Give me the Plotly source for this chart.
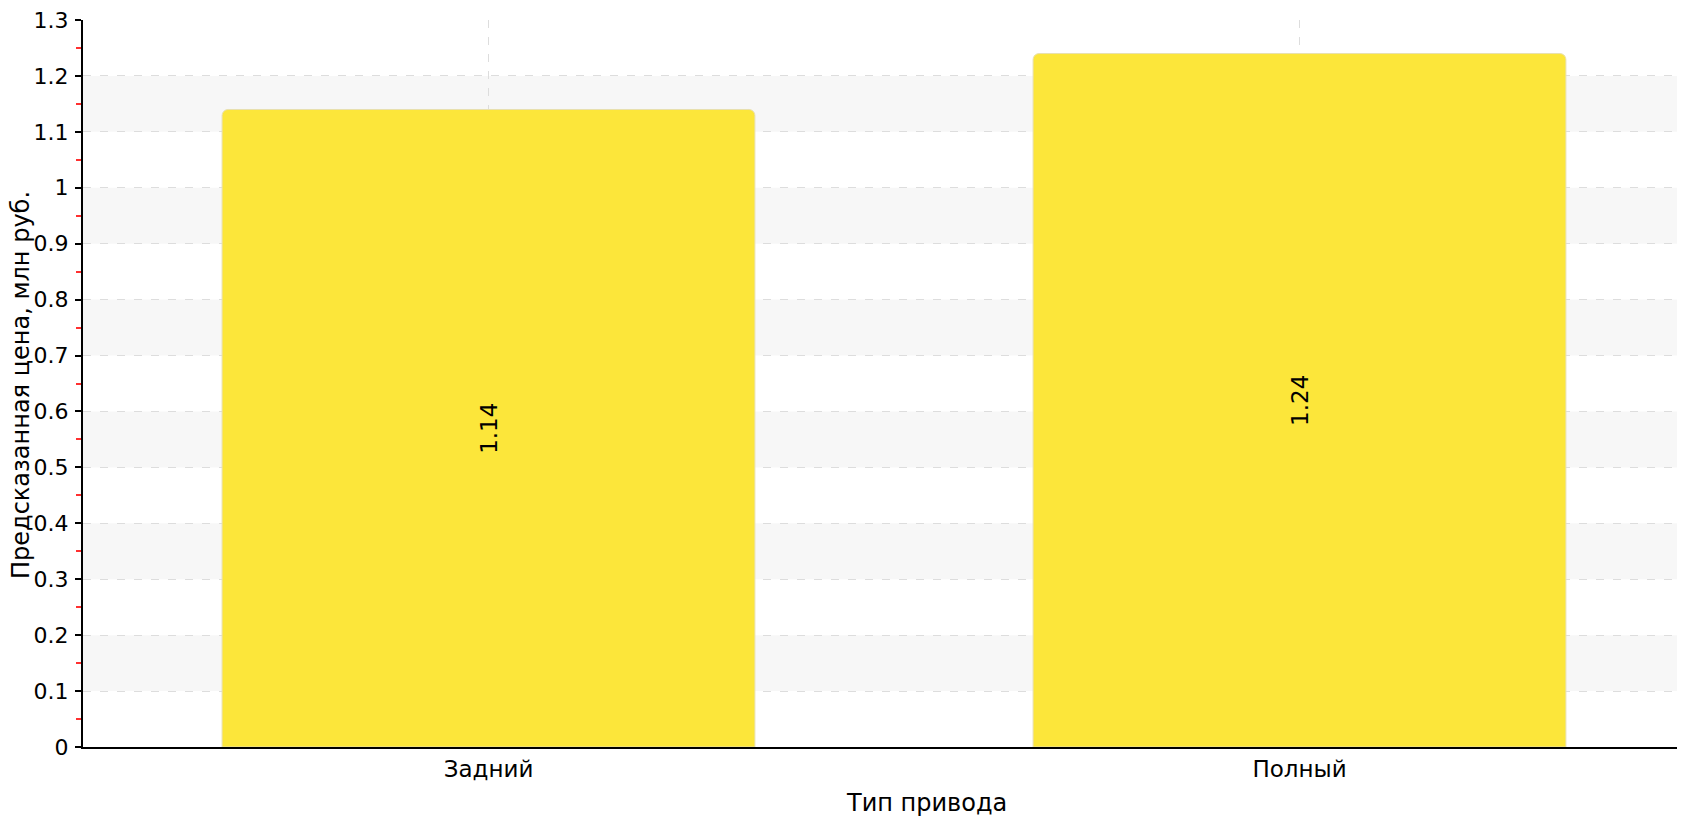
import plotly.graph_objects as go

categories = ["Задний", "Полный"]
values = [1.14, 1.24]
labels = ["1.14", "1.24"]
y_ticks = [0, 0.1, 0.2, 0.3, 0.4, 0.5, 0.6, 0.7, 0.8, 0.9, 1, 1.1, 1.2, 1.3]
band_starts = [0.1, 0.3, 0.5, 0.7, 0.9, 1.1]

FONT = "DejaVu Sans"
FS = 22
OFF = 8  # default page body margin
W, H = 1685 - OFF, 817 - OFF
L, T = 83 - OFF, 20 - OFF
B = H - (747 - OFF)
cat_px = 811.0  # pixel spacing between categories
x_right = -0.5 + (W - L) / cat_px

fig = go.Figure()
fig.add_trace(go.Bar(
    x=categories, y=values, text=labels,
    textposition="inside", insidetextanchor="middle", textangle=-90,
    textfont=dict(family=FONT, size=23, color="#000000"),
    marker=dict(color="#FCE63A", cornerradius=6,
                line=dict(color="#E8E0B0", width=1)),
    width=0.657,
    hoverinfo="skip",
))

shapes = []
for s in band_starts:
    shapes.append(dict(type="rect", xref="paper", yref="y", x0=0, x1=1,
                       y0=s, y1=s + 0.1, fillcolor="#F7F7F7", line_width=0,
                       layer="below"))

fig.update_layout(
    width=W, height=H,
    margin=dict(l=L, r=0, t=T, b=B, pad=0),
    paper_bgcolor="white", plot_bgcolor="white",
    showlegend=False,
    shapes=shapes,
    font=dict(family=FONT, size=FS, color="#000000"),
    bargap=0.343,
    xaxis=dict(
        range=[-0.5, x_right], type="category",
        showline=True, linecolor="#000000", linewidth=2,
        ticks="inside", ticklen=6, tickcolor="#000000", tickwidth=1,
        showgrid=True, gridcolor="#DDDDDD", griddash="8px,9px", gridwidth=1,
        tickfont=dict(family=FONT, size=23, color="#000000"),
        layer="below traces",
    ),
    yaxis=dict(
        range=[0, 1.3], tickvals=y_ticks, ticktext=[f"{v:g}" for v in y_ticks],
        showline=True, linecolor="#000000", linewidth=2,
        ticks="outside", ticklen=6, tickcolor="#000000", tickwidth=2,
        showgrid=True, gridcolor="#DDDDDD", griddash="8px,9px", gridwidth=1,
        zeroline=False,
        minor=dict(dtick=0.1, tick0=0.05, ticks="outside", ticklen=5,
                   tickcolor="#FF3030", tickwidth=2, showgrid=False),
        tickfont=dict(family=FONT, size=FS, color="#000000"),
        ticklabelstandoff=2,
        ticklabeloverflow="allow",
        layer="below traces",
    ),
)

plot_h = H - T - B
fig.add_annotation(text="Предсказанная цена, млн руб.", xref="paper", yref="paper",
                   x=-(L - (21 - OFF)) / (W - L), y=(H - (385 - OFF) - B) / plot_h,
                   xanchor="center", yanchor="middle", textangle=-90, showarrow=False,
                   font=dict(family=FONT, size=24, color="#000000"))
fig.add_annotation(text="Тип привода", xref="paper", yref="paper",
                   x=((927 - OFF) - L) / (W - L), y=(H - (803 - OFF) - B) / plot_h,
                   xanchor="center", yanchor="middle", showarrow=False,
                   font=dict(family=FONT, size=24, color="#000000"))

fig.write_html("out.html")
